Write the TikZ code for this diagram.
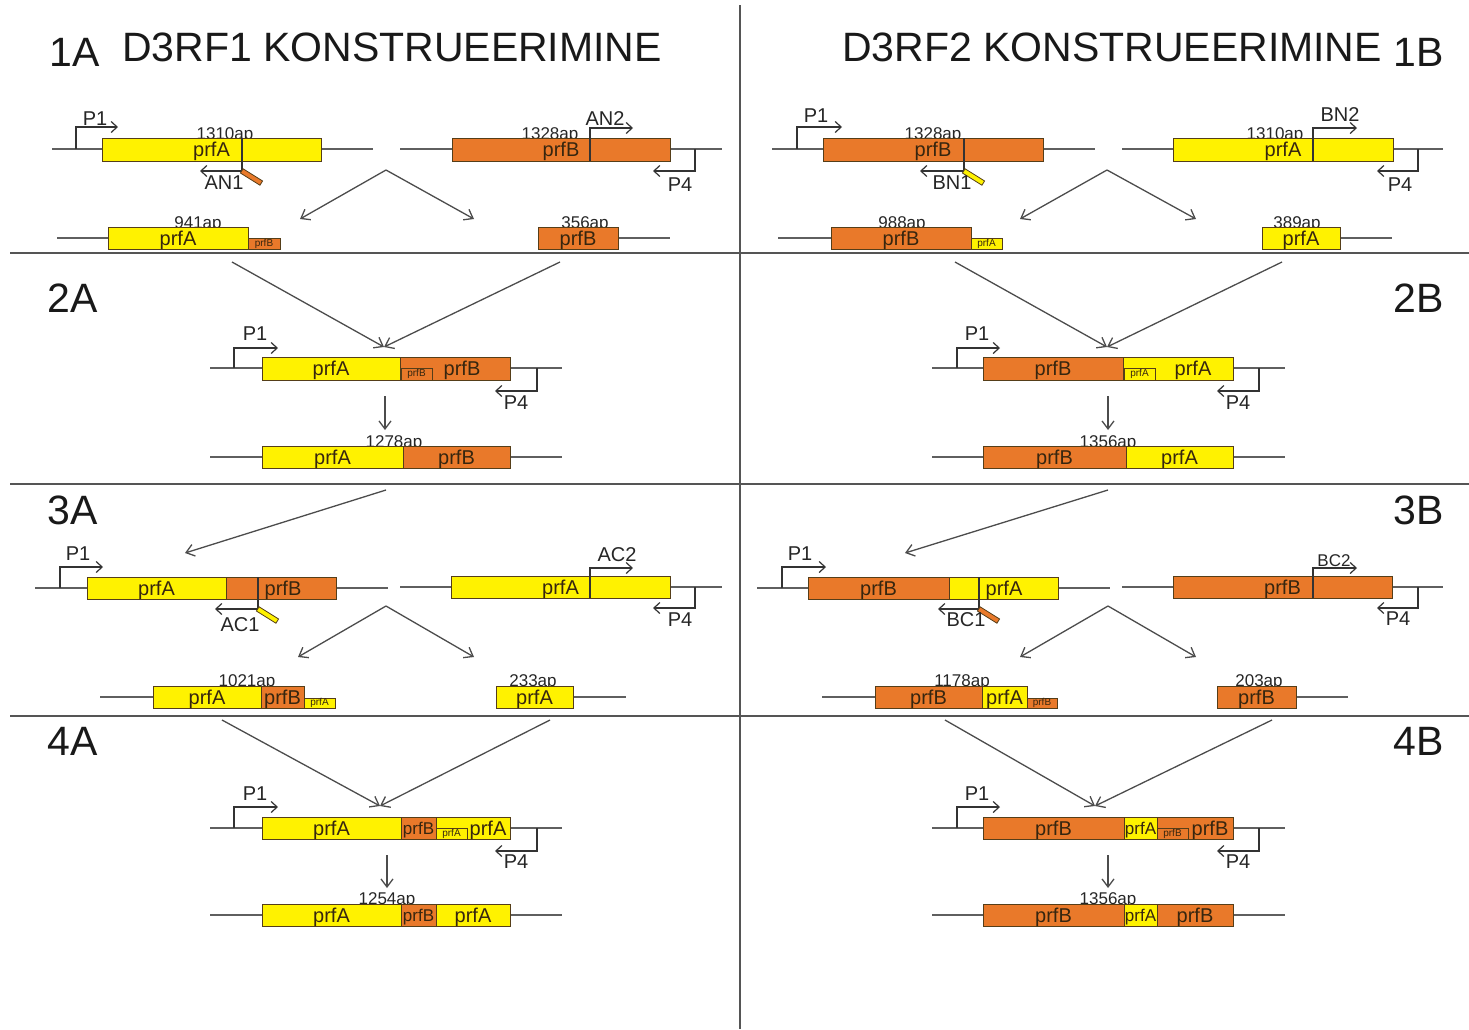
\documentclass[tikz,border=0pt]{standalone}
\usepackage{fontspec}
\setmainfont{Liberation Sans}
\usetikzlibrary{arrows.meta}
\definecolor{yelA}{RGB}{255,242,0}
\definecolor{orB}{RGB}{233,121,42}
\definecolor{boxline}{RGB}{85,62,25}
\definecolor{gtxt}{RGB}{55,38,15}
\definecolor{dnagray}{RGB}{95,95,95}
\definecolor{sepgray}{RGB}{85,85,85}
\newcommand{\titlefont}{\fontsize{41}{41}\selectfont}
\newcommand{\genefont}{\fontsize{20}{20}\selectfont}
\newcommand{\narrowgenefont}{\fontsize{17}{17}\selectfont}
\newcommand{\apfont}{\fontsize{17}{17}\selectfont}
\newcommand{\primfont}{\fontsize{20}{20}\selectfont}
\newcommand{\minifont}{\fontsize{10}{10}\selectfont}

\begin{document}
\begin{tikzpicture}[x=1pt,y=-1pt,
  dna/.style={draw=dnagray,line width=1.4pt},
  divline/.style={draw=sepgray,line width=2.2pt},
  genA/.style={draw=boxline,fill=yelA,line width=0.9pt,minimum height=22pt,font=\genefont,text=gtxt,text depth=0pt},
  genB/.style={genA,fill=orB},
  mini/.style={draw=boxline,line width=0.8pt,minimum height=11pt,font=\minifont,text=gtxt},
  gtx/.style={font=\genefont,text=gtxt,text depth=0pt},
  ap/.style={font=\apfont,text=black!85,yshift=-2pt},
  prim/.style={font=\primfont,text=black!85},
  hdr/.style={font=\titlefont,text=black!90},
  prom/.style={draw=black!80,line width=1.2pt,-{Straight Barb[length=6pt,width=11pt]}},
  flowarrow/.style={draw=black!70,line width=1.3pt,-{Straight Barb[length=8pt,width=12pt]}},
  primtail/.style={draw=boxline,line width=0.8pt,minimum width=23pt,minimum height=5pt,rotate=-32}]
\tikzstyle{every node}+=[inner sep=0pt]
\useasboundingbox (0,0) rectangle (1469,1029);
\draw[divline] (740,5) -- (740,1029);
\draw[divline] (10,253) -- (1469,253);
\draw[divline] (10,484) -- (1469,484);
\draw[divline] (10,716) -- (1469,716);

\node[hdr] (h1a) at (75,52) {1A};
\node[hdr] (t1) at (392,47) {D3RF1 KONSTRUEERIMINE};
\node[hdr] (t2) at (1112,47) {D3RF2 KONSTRUEERIMINE};
\node[hdr] (h1b) at (1419,52) {1B};
\node[hdr] (h2a) at (73,298) {2A};
\node[hdr] (h2b) at (1419,298) {2B};
\node[hdr] (h3a) at (73,510) {3A};
\node[hdr] (h3b) at (1419,510) {3B};
\node[hdr] (h4a) at (73,741) {4A};
\node[hdr] (h4b) at (1419,741) {4B};

% 1A
\draw[dna] (52,149) -- (373,149);
\node[ap] (s1a) at (225,133) {1310ap};
\node[genA,minimum width=219pt,minimum height=23pt] (g1a) at (211.5,149.5) {prfA};
\draw[prom] (76,149) |- (118,127);
\node[prim] (p1a) at (95,119) {P1};
\draw[prom] (242,138) |- (200,171);
\node[primtail,fill=orB] (r1a) at (251.5,177) {};
\node[prim] (n1a) at (224,183) {AN1};
\draw[dna] (400,149) -- (722,149);
\node[ap] (s1b) at (550,133) {1328ap};
\node[genB,minimum width=218pt,minimum height=23pt] (g1b) at (561,149.5) {prfB};
\draw[prom] (590,161) |- (633,128);
\node[prim] (n1b) at (605,119) {AN2};
\draw[prom] (695,149) |- (653,171);
\node[prim] (q1a) at (680,185) {P4};
\coordinate (v1a) at (386,170);
\coordinate (e1a) at (300,219);
\coordinate (f1a) at (474,219);
\draw[flowarrow] (v1a) -- (e1a);
\draw[flowarrow] (v1a) -- (f1a);
\node[ap] (s1c) at (198,222) {941ap};
\draw[dna] (57,238) -- (108,238);
\node[genA,minimum width=140pt] (g1c) at (178,238) {prfA};
\node[mini,fill=orB,minimum width=32pt] (m1c) at (264,243.5) {prfB};
\node[ap] (s1d) at (585,222) {356ap};
\draw[dna] (618,238) -- (670,238);
\node[genB,minimum width=80pt] (g1d) at (578,238) {prfB};

% 1B
\draw[dna] (772,149) -- (1095,149);
\node[ap] (s1e) at (933,133) {1328ap};
\node[genB,minimum width=220pt,minimum height=23pt] (g1e) at (933,149.5) {prfB};
\draw[prom] (797,149) |- (842,127);
\node[prim] (p1b) at (816,116) {P1};
\draw[prom] (964,138) |- (920,171);
\node[primtail,fill=yelA] (r1b) at (973.5,177) {};
\node[prim] (n1c) at (952,183) {BN1};
\draw[dna] (1122,149) -- (1443,149);
\node[ap] (s1f) at (1275,133) {1310ap};
\node[genA,minimum width=220pt,minimum height=23pt] (g1f) at (1283,149.5) {prfA};
\draw[prom] (1313,161) |- (1357,128);
\node[prim] (n1d) at (1340,115) {BN2};
\draw[prom] (1418,149) |- (1377,171);
\node[prim] (q1b) at (1400,185) {P4};
\coordinate (v1b) at (1107,170);
\coordinate (e1b) at (1020,219);
\coordinate (f1b) at (1196,219);
\draw[flowarrow] (v1b) -- (e1b);
\draw[flowarrow] (v1b) -- (f1b);
\node[ap] (s1g) at (902,222) {988ap};
\draw[dna] (778,238) -- (831,238);
\node[genB,minimum width=140pt] (g1g) at (901,238) {prfB};
\node[mini,fill=yelA,minimum width=31pt] (m1g) at (986.5,243.5) {prfA};
\node[ap] (s1h) at (1297,222) {389ap};
\draw[dna] (1340,238) -- (1392,238);
\node[genA,minimum width=78pt] (g1h) at (1301,238) {prfA};

% 2A
\coordinate (u2a) at (232,262);
\coordinate (w2a) at (560,262);
\coordinate (j2a) at (384,347);
\draw[flowarrow] (u2a) -- (j2a);
\draw[flowarrow] (w2a) -- (j2a);
\draw[dna] (210,368) -- (562,368);
\draw[prom] (234,368) |- (278,348);
\node[prim] (p2a) at (255,334) {P1};
\node[genA,minimum width=138pt,minimum height=23pt] (g2a) at (331,368.5) {prfA};
\node[genB,minimum width=110pt,minimum height=23pt] (k2a) at (455,368.5) {};
\node[mini,minimum width=31pt,minimum height=12pt] (m2a) at (416.5,374) {prfB};
\node[gtx] (x2a) at (462,368.5) {prfB};
\draw[prom] (537,368) |- (495,391);
\node[prim] (q2a) at (516,403) {P4};
\coordinate (d2a) at (385,396);
\coordinate (o2a) at (385,430);
\draw[flowarrow] (d2a) -- (o2a);
\node[ap] (s2a) at (394,441) {1278ap};
\draw[dna] (210,457) -- (562,457);
\node[genA,minimum width=141pt] (g2b) at (332.5,457) {prfA};
\node[genB,minimum width=107pt] (k2b) at (456.5,457) {prfB};

% 2B
\coordinate (u2b) at (955,262);
\coordinate (w2b) at (1282,262);
\coordinate (j2b) at (1107,347);
\draw[flowarrow] (u2b) -- (j2b);
\draw[flowarrow] (w2b) -- (j2b);
\draw[dna] (932,368) -- (1285,368);
\draw[prom] (957,368) |- (1000,348);
\node[prim] (p2b) at (977,334) {P1};
\node[genB,minimum width=140pt,minimum height=23pt] (g2c) at (1053,368.5) {prfB};
\node[genA,minimum width=110pt,minimum height=23pt] (k2c) at (1178,368.5) {};
\node[mini,minimum width=31pt,minimum height=12pt] (m2b) at (1139.5,374) {prfA};
\node[gtx] (x2b) at (1193,368.5) {prfA};
\draw[prom] (1259,368) |- (1217,391);
\node[prim] (q2b) at (1238,403) {P4};
\coordinate (d2b) at (1108,396);
\coordinate (o2b) at (1108,430);
\draw[flowarrow] (d2b) -- (o2b);
\node[ap] (s2b) at (1108,441) {1356ap};
\draw[dna] (932,457) -- (1285,457);
\node[genB,minimum width=143pt] (g2d) at (1054.5,457) {prfB};
\node[genA,minimum width=107pt] (k2d) at (1179.5,457) {prfA};

% 3A
\coordinate (u3a) at (386,490);
\coordinate (j3a) at (185,553);
\draw[flowarrow] (u3a) -- (j3a);
\draw[dna] (35,588) -- (388,588);
\draw[prom] (60,588) |- (103,567);
\node[prim] (p3a) at (78,554) {P1};
\node[genA,minimum width=139pt] (g3a) at (156.5,588) {prfA};
\node[genB,minimum width=110pt] (k3a) at (281,588) {};
\node[gtx] (x3a) at (283,588) {prfB};
\draw[prom] (258,577) |- (215,609);
\node[primtail,fill=yelA] (r3a) at (267.5,615) {};
\node[prim] (n3a) at (240,625) {AC1};
\draw[dna] (400,587) -- (722,587);
\node[genA,minimum width=219pt] (g3b) at (560.5,587) {prfA};
\draw[prom] (590,598) |- (633,568);
\node[prim] (n3b) at (617,555) {AC2};
\draw[prom] (695,587) |- (653,608);
\node[prim] (q3a) at (680,620) {P4};
\coordinate (v3a) at (386,606);
\coordinate (e3a) at (298,657);
\coordinate (f3a) at (474,657);
\draw[flowarrow] (v3a) -- (e3a);
\draw[flowarrow] (v3a) -- (f3a);
\node[ap] (s3a) at (247,680) {1021ap};
\draw[dna] (100,697) -- (153,697);
\node[genA,minimum width=108pt] (g3c) at (207,697) {prfA};
\node[genB,minimum width=43pt] (k3c) at (282.5,697) {prfB};
\node[mini,fill=yelA,minimum width=31pt,minimum height=10pt] (m3c) at (319.5,703) {prfA};
\node[ap] (s3b) at (533,680) {233ap};
\draw[dna] (573,697) -- (626,697);
\node[genA,minimum width=77pt] (g3d) at (534.5,697) {prfA};

% 3B
\coordinate (u3b) at (1108,490);
\coordinate (j3b) at (905,553);
\draw[flowarrow] (u3b) -- (j3b);
\draw[dna] (757,588) -- (1110,588);
\draw[prom] (782,588) |- (826,567);
\node[prim] (p3b) at (800,554) {P1};
\node[genB,minimum width=141pt] (g3e) at (878.5,588) {prfB};
\node[genA,minimum width=109pt] (k3e) at (1003.5,588) {};
\node[gtx] (x3e) at (1004,588) {prfA};
\draw[prom] (979,577) |- (938,609);
\node[primtail,fill=orB] (r3b) at (988.5,615) {};
\node[prim] (n3c) at (966,620) {BC1};
\draw[dna] (1122,587) -- (1443,587);
\node[genB,minimum width=219pt] (g3f) at (1282.5,587) {prfB};
\draw[prom] (1313,598) |- (1357,568);
\node[ap] (n3d) at (1334,559) {BC2};
\draw[prom] (1418,587) |- (1377,608);
\node[prim] (q3b) at (1398,619) {P4};
\coordinate (v3b) at (1108,606);
\coordinate (e3b) at (1020,657);
\coordinate (f3b) at (1196,657);
\draw[flowarrow] (v3b) -- (e3b);
\draw[flowarrow] (v3b) -- (f3b);
\node[ap] (s3c) at (962,680) {1178ap};
\draw[dna] (822,697) -- (875,697);
\node[genB,minimum width=107pt] (g3g) at (928.5,697) {prfB};
\node[genA,minimum width=45pt] (k3g) at (1004.5,697) {prfA};
\node[mini,fill=orB,minimum width=30pt,minimum height=10pt] (m3g) at (1042,703) {prfB};
\node[ap] (s3d) at (1259,680) {203ap};
\draw[dna] (1296,697) -- (1348,697);
\node[genB,minimum width=79pt] (g3h) at (1256.5,697) {prfB};

% 4A
\coordinate (u4a) at (222,720);
\coordinate (w4a) at (550,720);
\coordinate (j4a) at (380,806);
\draw[flowarrow] (u4a) -- (j4a);
\draw[flowarrow] (w4a) -- (j4a);
\draw[dna] (210,828) -- (562,828);
\draw[prom] (234,828) |- (278,807);
\node[prim] (p4a) at (255,794) {P1};
\node[genA,minimum width=139pt] (g4a) at (331.5,828) {prfA};
\node[genB,minimum width=35pt,font=\narrowgenefont] (k4a) at (418.5,828) {prfB};
\node[genA,minimum width=74pt] (l4a) at (473,828) {};
\node[mini,minimum width=31pt] (m4a) at (451.5,833.5) {prfA};
\node[gtx] (x4a) at (488,828) {prfA};
\draw[prom] (537,828) |- (495,851);
\node[prim] (q4a) at (516,862) {P4};
\coordinate (d4a) at (387,855);
\coordinate (o4a) at (387,888);
\draw[flowarrow] (d4a) -- (o4a);
\node[ap] (s4a) at (387,898) {1254ap};
\draw[dna] (210,915) -- (562,915);
\node[genA,minimum width=139pt] (g4b) at (331.5,915) {prfA};
\node[genB,minimum width=35pt,font=\narrowgenefont] (k4b) at (418.5,915) {prfB};
\node[genA,minimum width=74pt] (l4b) at (473,915) {prfA};

% 4B
\coordinate (u4b) at (945,720);
\coordinate (w4b) at (1272,720);
\coordinate (j4b) at (1095,806);
\draw[flowarrow] (u4b) -- (j4b);
\draw[flowarrow] (w4b) -- (j4b);
\draw[dna] (932,828) -- (1285,828);
\draw[prom] (957,828) |- (1000,807);
\node[prim] (p4b) at (977,794) {P1};
\node[genB,minimum width=141pt] (g4c) at (1053.5,828) {prfB};
\node[genA,minimum width=33pt,font=\narrowgenefont] (k4c) at (1140.5,828) {prfA};
\node[genB,minimum width=76pt] (l4c) at (1195,828) {};
\node[mini,minimum width=31pt] (m4c) at (1172.5,833.5) {prfB};
\node[gtx] (x4c) at (1210,828) {prfB};
\draw[prom] (1259,828) |- (1217,851);
\node[prim] (q4b) at (1238,862) {P4};
\coordinate (d4b) at (1108,855);
\coordinate (o4b) at (1108,888);
\draw[flowarrow] (d4b) -- (o4b);
\node[ap] (s4b) at (1108,898) {1356ap};
\draw[dna] (932,915) -- (1285,915);
\node[genB,minimum width=141pt] (g4d) at (1053.5,915) {prfB};
\node[genA,minimum width=33pt,font=\narrowgenefont] (k4d) at (1140.5,915) {prfA};
\node[genB,minimum width=76pt] (l4d) at (1195,915) {prfB};
\end{tikzpicture}
\end{document}
